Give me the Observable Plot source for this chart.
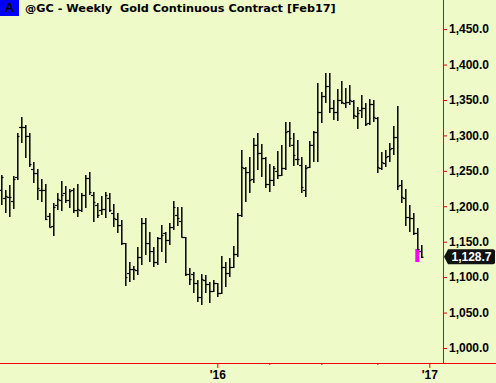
<!DOCTYPE html>
<html>
<head>
<meta charset="utf-8">
<script src="https://cdn.jsdelivr.net/npm/d3@7"></script>
<script src="https://cdn.jsdelivr.net/npm/@observablehq/plot@0.6"></script>
<style>
  html, body { margin: 0; padding: 0; background: #EEFAC8; }
  #wrap { position: relative; width: 496px; height: 383px; background: #EEFAC8; overflow: hidden; }
  #badge { position: absolute; left: 0; top: 0; width: 19px; height: 16px; background: #0000FF; color: #000;
           font: bold 13px "Liberation Sans", Arial, sans-serif; text-align: center; line-height: 16px; }
  #title { position: absolute; left: 25px; top: 1px; font: bold 11.25px "DejaVu Sans", sans-serif;
           color: #000; white-space: pre; line-height: 16px; }
  svg { display: block; }
</style>
</head>
<body>
<div id="wrap">
  <div id="chart"></div>
  <div id="badge">A</div>
  <div id="title">@GC - Weekly  Gold Continuous Contract [Feb17]</div>
</div>
<script>
// Weekly bars, Friday-dated, first bar = week ending 2014-12-19, last = week ending 2016-12-23
const opens = [
  1223.0, 1211.7, 1213.1, 1207.4, 1241.3, 1311.9, 1311.9, 1299.2, 1252.6, 1246.9,
  1223.0, 1223.0, 1186.3, 1172.1, 1201.8, 1208.8, 1218.7, 1208.8, 1223.0, 1194.7,
  1194.7, 1215.9, 1239.9, 1215.9, 1201.8, 1194.7, 1196.1, 1211.7, 1190.5, 1182.0,
  1173.5, 1148.1, 1105.8, 1111.4, 1110.0, 1128.4, 1176.4, 1148.1, 1136.8, 1121.3,
  1155.2, 1162.3, 1152.4, 1170.7, 1187.7, 1179.2, 1156.6, 1104.4, 1104.4, 1091.7,
  1071.9, 1095.9, 1090.3, 1080.4, 1091.7, 1077.6, 1114.3, 1105.8, 1114.3, 1132.6,
  1187.7, 1254.0, 1248.3, 1238.5, 1286.6, 1275.2, 1268.1, 1231.4, 1237.1, 1249.8,
  1244.1, 1254.0, 1306.2, 1286.6, 1266.7, 1258.2, 1223.0, 1255.4, 1286.6, 1304.8,
  1333.0, 1355.6, 1369.7, 1338.7, 1333.0, 1350.0, 1345.7, 1347.1, 1348.6, 1327.4,
  1335.8, 1338.7, 1317.5, 1344.3, 1324.6, 1254.0, 1261.0, 1270.9, 1282.2, 1297.7,
  1230.0, 1211.7, 1184.8, 1183.4, 1162.3, 1136.8
];
const highs = [
  1244.1, 1223.0, 1230.0, 1242.7, 1303.4, 1326.0, 1314.7, 1303.4, 1262.4, 1252.6,
  1238.5, 1231.4, 1190.5, 1204.6, 1218.7, 1235.6, 1228.6, 1224.4, 1225.8, 1231.4,
  1218.7, 1244.1, 1248.3, 1220.1, 1204.6, 1214.5, 1220.1, 1218.7, 1203.2, 1190.5,
  1180.6, 1148.1, 1121.3, 1115.7, 1142.5, 1183.4, 1183.4, 1163.7, 1142.5, 1156.6,
  1173.5, 1163.7, 1176.4, 1207.4, 1199.0, 1199.0, 1156.6, 1112.9, 1107.2, 1095.9,
  1104.4, 1103.0, 1093.1, 1095.9, 1091.7, 1129.8, 1121.3, 1127.0, 1143.9, 1190.5,
  1279.4, 1255.4, 1269.5, 1296.3, 1303.4, 1287.9, 1269.5, 1259.6, 1256.8, 1278.0,
  1286.6, 1318.9, 1318.9, 1303.4, 1293.5, 1269.5, 1258.2, 1292.1, 1306.2, 1374.0,
  1361.3, 1388.1, 1388.1, 1350.0, 1365.5, 1376.8, 1366.9, 1371.1, 1350.0, 1340.1,
  1357.0, 1345.7, 1351.4, 1350.0, 1326.0, 1276.6, 1279.4, 1289.3, 1313.3, 1341.5,
  1237.1, 1224.4, 1201.8, 1190.5, 1169.3, 1145.3
];
const lows = [
  1201.8, 1190.5, 1184.8, 1196.1, 1237.1, 1289.3, 1268.1, 1255.4, 1232.8, 1208.8,
  1206.0, 1180.6, 1170.7, 1158.0, 1194.7, 1193.3, 1204.6, 1197.6, 1190.5, 1184.8,
  1191.9, 1197.6, 1215.9, 1177.8, 1183.4, 1187.7, 1183.4, 1191.9, 1170.7, 1162.3,
  1145.3, 1087.5, 1093.1, 1095.9, 1103.0, 1117.1, 1131.2, 1121.3, 1114.3, 1117.1,
  1135.4, 1119.9, 1145.3, 1166.5, 1172.1, 1156.6, 1101.6, 1088.9, 1077.6, 1064.9,
  1060.6, 1077.6, 1063.5, 1079.0, 1071.9, 1076.2, 1086.0, 1100.1, 1112.9, 1128.4,
  1184.8, 1206.0, 1218.7, 1232.8, 1251.2, 1241.3, 1225.8, 1220.1, 1228.6, 1238.5,
  1242.7, 1251.2, 1283.6, 1256.8, 1258.2, 1218.7, 1213.1, 1254.0, 1262.4, 1262.4,
  1317.5, 1345.7, 1331.6, 1321.7, 1320.3, 1344.3, 1338.7, 1342.9, 1323.1, 1309.0,
  1324.6, 1313.3, 1314.7, 1318.9, 1246.9, 1251.2, 1255.4, 1262.4, 1272.3, 1223.0,
  1204.6, 1172.1, 1163.7, 1159.4, 1139.7, 1127.0
];
const closes = [
  1241.3, 1214.5, 1213.1, 1238.5, 1299.2, 1311.9, 1299.2, 1259.6, 1246.9, 1225.8,
  1223.0, 1182.0, 1170.7, 1199.0, 1210.3, 1215.9, 1208.8, 1221.5, 1194.7, 1196.1,
  1215.9, 1239.9, 1220.1, 1206.0, 1187.7, 1196.1, 1215.9, 1194.7, 1183.4, 1173.5,
  1148.1, 1100.1, 1111.4, 1111.4, 1128.4, 1176.4, 1148.1, 1136.8, 1121.3, 1155.2,
  1159.4, 1152.4, 1170.7, 1199.0, 1183.4, 1156.6, 1104.4, 1097.3, 1091.7, 1071.9,
  1097.3, 1090.3, 1080.4, 1091.7, 1077.6, 1114.3, 1105.8, 1114.3, 1132.6, 1187.7,
  1255.4, 1248.3, 1237.1, 1286.6, 1275.2, 1268.1, 1231.4, 1237.1, 1254.0, 1244.1,
  1254.0, 1304.8, 1296.3, 1272.3, 1266.7, 1227.2, 1254.0, 1286.6, 1304.8, 1333.0,
  1355.6, 1369.7, 1338.7, 1333.0, 1350.0, 1347.1, 1347.1, 1350.0, 1328.8, 1331.6,
  1338.7, 1316.1, 1344.3, 1326.0, 1255.4, 1262.4, 1269.5, 1280.8, 1297.7, 1228.6,
  1213.1, 1184.8, 1183.4, 1162.3, 1139.7, 1128.7
];

// Axis ticks
const yTicks = [1000, 1050, 1100, 1150, 1200, 1250, 1300, 1350, 1400, 1450];
const yearTickBars = [54, 107];          // first weekly bar of 2016 and 2017
const yearTickLabels = ["'16", "'17"];
const quarterTickBars = [67, 80, 94];    // first bars of Apr, Jul, Oct 2016
// Highlight marker on the previous bar
const markerBar = [104];
const markerLow = [1121.3];
const markerHigh = [1139.7];

const xDomain = [-0.325, 110.425];
const yDomain = [978.8, 1491.1];
const RED = "#F00000";
const FONT = "'Liberation Sans', Arial, sans-serif";

const bars = opens.map((o, i) => ({i, open: o, high: highs[i], low: lows[i], close: closes[i]}));
const marker = markerBar.map((b, k) => ({i: b, lo: markerLow[k], hi: markerHigh[k]}));
const lastClose = closes[closes.length - 1];
const xEnd = xDomain[1], yMin = yDomain[0];

const plot = Plot.plot({
  width: 496, height: 383,
  marginTop: 0, marginLeft: 0, marginRight: 53, marginBottom: 20,
  style: {background: "transparent", fontFamily: FONT},
  x: {type: "linear", domain: xDomain, axis: null},
  y: {type: "linear", domain: yDomain, axis: null},
  marks: [
    Plot.rect(marker, {x1: d => d.i - 0.5, x2: d => d.i + 0.5, y1: "lo", y2: "hi", fill: "#FF00FF"}),
    Plot.ruleX(bars, {x: "i", y1: "low", y2: "high", stroke: "#000", strokeWidth: 1.5}),
    Plot.ruleY(bars, {y: "open", x1: d => d.i - 0.55, x2: "i", stroke: "#000", strokeWidth: 1.2}),
    Plot.ruleY(bars, {y: "close", x1: "i", x2: d => d.i + 0.55, stroke: "#000", strokeWidth: 1.2}),
    // right axis
    Plot.ruleX([xEnd], {y1: yMin, y2: yDomain[1], stroke: RED, strokeWidth: 1}),
    Plot.ruleY(yTicks, {y: d => d, x1: xEnd, x2: xEnd + 1, stroke: RED, strokeWidth: 1}),
    Plot.text(yTicks, {y: d => d, x: xEnd, dx: 5.5, textAnchor: "start", text: d => d3.format(",.1f")(d),
      fontWeight: "bold", fontSize: 12, fill: "#000"}),
    // bottom axis
    Plot.ruleY([yMin], {x1: xDomain[0], x2: xEnd + 14, stroke: RED, strokeWidth: 1}),
    Plot.ruleX(yearTickBars, {x: d => d, y1: yMin, y2: yMin - 7, stroke: RED, strokeWidth: 1}),
    Plot.ruleX(quarterTickBars, {x: d => d, y1: yMin, y2: yMin - 2.8, stroke: RED, strokeWidth: 1}),
    Plot.text(yearTickBars, {x: d => d, y: yMin, dy: 12, text: (d, k) => yearTickLabels[k],
      fontWeight: "bold", fontSize: 12, fill: "#000"})
  ]
});
document.getElementById("chart").appendChild(plot);

// last-price flag on the right axis
const svg = d3.select(plot);
const px = plot.scale("x").apply(xEnd);
const py = plot.scale("y").apply(lastClose);
const g = svg.append("g");
g.append("path")
  .attr("d", `M${px + 1},${py} L${px + 5},${py - 7.5} H${px + 50} Q${px + 52},${py - 7.5} ${px + 52},${py - 5.5} V${py + 5.5} Q${px + 52},${py + 7.5} ${px + 50},${py + 7.5} H${px + 5} Z`)
  .attr("fill", "#111");
g.append("text")
  .attr("x", px + 28.5).attr("y", py).attr("dy", "0.36em")
  .attr("text-anchor", "middle")
  .attr("fill", "#fff").attr("font-weight", "bold").attr("font-size", 12).attr("font-family", FONT)
  .text(d3.format(",.1f")(lastClose));
</script>
</body>
</html>
